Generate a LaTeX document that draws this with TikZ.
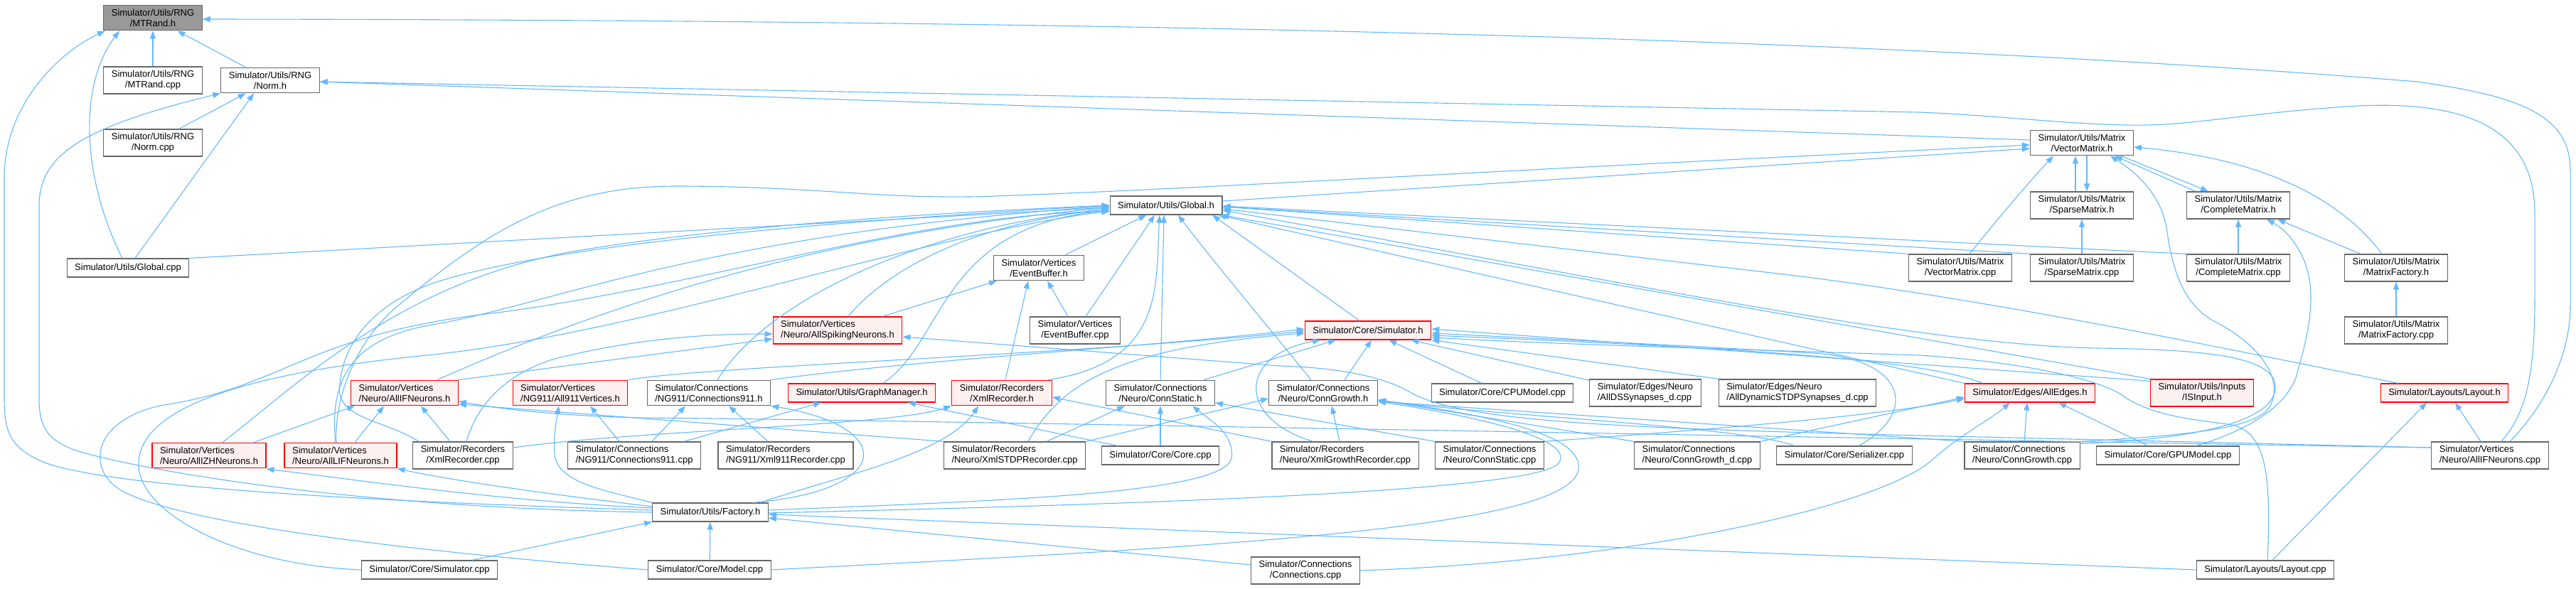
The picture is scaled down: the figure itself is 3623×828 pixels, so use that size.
\documentclass[tikz,border=0pt]{standalone}
\usepackage{fontspec}
\setmainfont{Liberation Sans}
\usetikzlibrary{arrows.meta}
\definecolor{EdgeBlue}{RGB}{99,184,255}
\definecolor{BoxGray}{RGB}{102,102,102}
\definecolor{PinkFill}{RGB}{255,240,240}
\definecolor{RootGray}{RGB}{153,153,153}

\begin{document}
\begin{tikzpicture}[x=1pt, y=-1pt,
    filebox/.style={draw=BoxGray, fill=white, line width=1.2pt, font=\fontsize{13}{15}\selectfont,
      inner xsep=11pt, inner ysep=5.5pt, minimum height=26pt, align=center},
    filebox left/.style={filebox, align=left},
    redbox/.style={filebox, draw=red, fill=PinkFill},
    redbox left/.style={filebox left, draw=red, fill=PinkFill},
    inc/.style={draw=EdgeBlue, line width=1.1pt, -{Triangle[length=11pt,width=8pt]}}]
    \useasboundingbox (0,0) rectangle (3623,828);

    % Files
    \node[filebox, fill=RootGray] (mtrandh) at (215,25) {Simulator/Utils/RNG\\/MTRand.h};
    \node[filebox] (mtrandcpp) at (215,113) {Simulator/Utils/RNG\\/MTRand.cpp};
    \node[filebox] (normh) at (380,113) {Simulator/Utils/RNG\\/Norm.h};
    \node[filebox] (normcpp) at (215,201) {Simulator/Utils/RNG\\/Norm.cpp};
    \node[filebox] (globalcpp) at (180,377) {Simulator/Utils/Global.cpp};
    \node[filebox] (globalh) at (1640,289) {Simulator/Utils/Global.h};
    \node[filebox] (eventbufh) at (1461,377) {Simulator/Vertices\\/EventBuffer.h};
    \node[filebox] (vectorh) at (2928,201) {Simulator/Utils/Matrix\\/VectorMatrix.h};
    \node[filebox] (sparseh) at (2928,289) {Simulator/Utils/Matrix\\/SparseMatrix.h};
    \node[filebox] (completeh) at (3148,289) {Simulator/Utils/Matrix\\/CompleteMatrix.h};
    \node[filebox] (vectorcpp) at (2757,377) {Simulator/Utils/Matrix\\/VectorMatrix.cpp};
    \node[filebox] (sparsecpp) at (2928,377) {Simulator/Utils/Matrix\\/SparseMatrix.cpp};
    \node[filebox] (completecpp) at (3148,377) {Simulator/Utils/Matrix\\/CompleteMatrix.cpp};
    \node[filebox] (mfactoryh) at (3370,377) {Simulator/Utils/Matrix\\/MatrixFactory.h};
    \node[filebox] (mfactorycpp) at (3370,465) {Simulator/Utils/Matrix\\/MatrixFactory.cpp};
    \node[redbox left] (spikingh) at (1178,465) {Simulator/Vertices\\/Neuro/AllSpikingNeurons.h};
    \node[filebox] (eventbufcpp) at (1512,465) {Simulator/Vertices\\/EventBuffer.cpp};
    \node[redbox] (simulatorh) at (1924,465) {Simulator/Core/Simulator.h};
    \node[redbox left] (ifneuronsh) at (569,553) {Simulator/Vertices\\/Neuro/AllIFNeurons.h};
    \node[redbox left] (v911h) at (802,553) {Simulator/Vertices\\/NG911/All911Vertices.h};
    \node[filebox left] (conn911h) at (997,553) {Simulator/Connections\\/NG911/Connections911.h};
    \node[redbox] (graphmgrh) at (1212,553) {Simulator/Utils/GraphManager.h};
    \node[redbox] (xmlrech) at (1409,553) {Simulator/Recorders\\/XmlRecorder.h};
    \node[filebox] (connstatich) at (1632,553) {Simulator/Connections\\/Neuro/ConnStatic.h};
    \node[filebox] (conngrowthh) at (1861,553) {Simulator/Connections\\/Neuro/ConnGrowth.h};
    \node[filebox] (cpumodelcpp) at (2113,553) {Simulator/Core/CPUModel.cpp};
    \node[filebox left] (dssyncpp) at (2314,553) {Simulator/Edges/Neuro\\/AllDSSynapses\_d.cpp};
    \node[filebox left] (dstdpcpp) at (2528,553) {Simulator/Edges/Neuro\\/AllDynamicSTDPSynapses\_d.cpp};
    \node[redbox] (alledgesh) at (2855,553) {Simulator/Edges/AllEdges.h};
    \node[redbox] (isinputh) at (3097,553) {Simulator/Utils/Inputs\\/ISInput.h};
    \node[redbox] (layouth) at (3438,553) {Simulator/Layouts/Layout.h};
    \node[redbox left] (izhh) at (294,641) {Simulator/Vertices\\/Neuro/AllIZHNeurons.h};
    \node[redbox left] (lifh) at (479,641) {Simulator/Vertices\\/Neuro/AllLIFNeurons.h};
    \node[filebox] (xmlreccpp) at (651,641) {Simulator/Recorders\\/XmlRecorder.cpp};
    \node[filebox left] (conn911cpp) at (892,641) {Simulator/Connections\\/NG911/Connections911.cpp};
    \node[filebox left] (xml911cpp) at (1105,641) {Simulator/Recorders\\/NG911/Xml911Recorder.cpp};
    \node[filebox left] (stdpreccpp) at (1427,641) {Simulator/Recorders\\/Neuro/XmlSTDPRecorder.cpp};
    \node[filebox] (corecpp) at (1632,641) {Simulator/Core/Core.cpp};
    \node[filebox left] (growthreccpp) at (1892,641) {Simulator/Recorders\\/Neuro/XmlGrowthRecorder.cpp};
    \node[filebox left] (connstaticcpp) at (2095,641) {Simulator/Connections\\/Neuro/ConnStatic.cpp};
    \node[filebox left] (conngrowthdcpp) at (2387,641) {Simulator/Connections\\/Neuro/ConnGrowth\_d.cpp};
    \node[filebox] (serializercpp) at (2594,641) {Simulator/Core/Serializer.cpp};
    \node[filebox left] (conngrowthcpp) at (2844,641) {Simulator/Connections\\/Neuro/ConnGrowth.cpp};
    \node[filebox] (gpumodelcpp) at (3049,641) {Simulator/Core/GPUModel.cpp};
    \node[filebox left] (ifneuronscpp) at (3502,641) {Simulator/Vertices\\/Neuro/AllIFNeurons.cpp};
    \node[filebox] (factoryh) at (999,721) {Simulator/Utils/Factory.h};
    \node[filebox] (simulatorcpp) at (604,802) {Simulator/Core/Simulator.cpp};
    \node[filebox] (modelcpp) at (998,802) {Simulator/Core/Model.cpp};
    \node[filebox] (connectionscpp) at (1836,803) {Simulator/Connections\\/Connections.cpp};
    \node[filebox] (layoutcpp) at (3186,802) {Simulator/Layouts/Layout.cpp};

    % RNG
    \draw[inc] (mtrandcpp) -- (mtrandh);
    \draw[inc] (normh) -- (mtrandh);
    \draw[inc] (normcpp) -- (normh);
    \draw[inc] ([xshift=-8pt]globalcpp.north) .. controls (115,250) and (110,120) .. ([xshift=-47pt]mtrandh.south);
    \draw[inc] ([xshift=10pt]globalcpp.north) -- ([xshift=-23pt]normh.south);
    \draw[inc] ([yshift=3pt]factoryh.west) .. controls (500,705) and (150,685) .. (60,650) .. controls (15,630) and (6,610) .. (6,560) -- (6,250) .. controls (6,150) and (80,75) .. ([xshift=-67pt]mtrandh.south);
    \draw[inc] (factoryh.west) .. controls (500,715) and (200,662) .. (110,635) .. controls (65,620) and (55,600) .. (55,560) -- (55,290) .. controls (55,220) and (110,180) .. (normh.south west);
    \draw[inc] ([xshift=28pt]ifneuronscpp.north) .. controls (3580,570) and (3615,500) .. (3615,430) -- (3615,240) .. controls (3615,160) and (3540,135) .. (3400,115) .. controls (2600,50) and (1500,28) .. ([yshift=-2pt]mtrandh.east);
    \draw[inc] ([xshift=16pt]ifneuronscpp.north) .. controls (3555,580) and (3565,520) .. (3565,420) -- (3565,300) .. controls (3565,170) and (3450,140) .. (3300,150) .. controls (3150,160) and (3080,178) .. (2990,176) .. controls (2900,174) and (2800,162) .. (2700,158) -- ([yshift=-2pt]normh.east);
    \draw[inc] ([yshift=4pt]vectorh.west) -- ([yshift=-2pt]normh.east);

    % Matrix
    \draw[inc] ([yshift=6pt]globalh.east) -- ([yshift=-8pt]vectorh.west);
    \draw[inc] ([xshift=-6pt]lifh.north) .. controls (470,560) and (500,480) .. (560,430) .. controls (680,330) and (780,262) .. (950,262) .. controls (1150,262) and (1250,282) .. (1400,276) .. controls (1700,265) and (2000,245) .. ([yshift=-3pt]vectorh.west);
    \draw[inc] ([xshift=-9pt]sparseh.north) -- ([xshift=-9pt]vectorh.south);
    \draw[inc] ([xshift=7pt]vectorh.south) -- ([xshift=7pt]sparseh.north);
    \draw[inc] ([xshift=-60pt]completeh.north) -- ([xshift=46pt]vectorh.south);
    \draw[inc] ([xshift=55pt]vectorh.south) -- ([xshift=-42pt]completeh.north);
    \draw[inc] ([xshift=13pt]vectorcpp.north) .. controls (2800,320) and (2850,260) .. ([xshift=-40pt]vectorh.south);
    \draw[inc] ([xshift=-20pt]mfactoryh.north) .. controls (3300,290) and (3200,225) .. ([yshift=-6pt]vectorh.east);
    \draw[inc] (sparsecpp) -- (sparseh);
    \draw[inc] (completecpp) -- (completeh);
    \draw[inc] ([xshift=-50pt]mfactoryh.north) -- ([xshift=55pt]completeh.south);
    \draw[inc] (mfactorycpp) -- (mfactoryh);
    \draw[inc] (conngrowthcpp.north east) .. controls (3100,612) and (3165,600) .. (3188,578) .. controls (3215,545) and (3190,490) .. (3110,450) .. controls (3070,425) and (3055,380) .. (3047,320) .. controls (3038,270) and (3000,240) .. ([xshift=40pt]vectorh.south);
    \draw[inc] ([xshift=40pt]gpumodelcpp.north) .. controls (3180,600) and (3225,560) .. (3232,520) .. controls (3250,460) and (3260,400) .. (3235,355) .. controls (3222,330) and (3205,318) .. ([xshift=40pt]completeh.south);

    % Global.h
    \draw[inc] (globalcpp.north east) -- ([yshift=-3pt]globalh.west);
    \draw[inc] (eventbufh) -- (globalh);
    \draw[inc] ([xshift=15pt]spikingh.north) .. controls (1230,400) and (1330,320) .. ([yshift=-5pt]globalh.west);
    \draw[inc] ([xshift=46pt]ifneuronsh.north) .. controls (850,430) and (1150,330) .. ([yshift=-3pt]globalh.west);
    \draw[inc] ([xshift=19pt]izhh.north) .. controls (420,540) and (560,400) .. (800,355) .. controls (1000,320) and (1300,300) .. (globalh.west);
    \draw[inc] ([xshift=-7pt]lifh.north) .. controls (460,510) and (520,470) .. (620,455) .. controls (800,420) and (1000,330) .. ([yshift=-1pt]globalh.west);
    \draw[inc] ([xshift=12pt]conn911h.north) .. controls (1080,420) and (1300,320) .. ([yshift=-5pt]globalh.west);
    \draw[inc] ([xshift=30pt]graphmgrh.north) .. controls (1330,480) and (1320,320) .. ([yshift=-7pt]globalh.west);
    \draw[inc] ([xshift=65pt]xmlrech.north) .. controls (1640,510) and (1625,400) .. ([xshift=-9pt]globalh.south);
    \draw[inc] (connstatich.north) -- ([xshift=-3pt]globalh.south);
    \draw[inc] ([xshift=15pt]eventbufcpp.north) -- ([xshift=-16pt]globalh.south);
    \draw[inc] ([xshift=-12pt]simulatorh.north) -- ([xshift=65pt]globalh.south);
    \draw[inc] ([xshift=-17pt]conngrowthh.north) .. controls (1800,480) and (1700,360) .. ([xshift=17pt]globalh.south);
    \draw[inc] (alledgesh.north west) -- ([xshift=-6pt]globalh.south east);
    \draw[inc] (isinputh.north west) -- ([xshift=-2pt]globalh.south east);
    \draw[inc] ([xshift=-65pt]layouth.north) .. controls (3200,505) and (2800,420) .. (2500,385) -- ([yshift=-5pt]globalh.east);
    \draw[inc] (vectorcpp.north west) -- ([yshift=-2pt]globalh.east);
    \draw[inc] (sparsecpp.north west) -- ([yshift=-2pt]globalh.east);
    \draw[inc] (completecpp.north west) -- ([yshift=-1pt]globalh.east);
    \draw[inc] ([yshift=-3pt]conngrowthcpp.north east) .. controls (3100,618) and (3200,590) .. (3200,545) .. controls (3200,505) and (3120,492) .. (2950,490) .. controls (2700,485) and (2300,400) .. ([yshift=-7pt]globalh.east);
    \draw[inc] ([xshift=-62pt]xmlreccpp.north) .. controls (540,590) and (470,590) .. (478,540) .. controls (485,470) and (540,420) .. (620,395) .. controls (800,340) and (1200,310) .. (globalh.west);
    \draw[inc] (simulatorcpp.west) .. controls (330,795) and (190,720) .. (195,650) .. controls (200,560) and (400,520) .. (600,500) .. controls (900,470) and (1300,330) .. ([yshift=-8pt]globalh.west);
    \draw[inc] (modelcpp.west) .. controls (500,770) and (240,730) .. (170,690) .. controls (120,660) and (130,590) .. (230,570) .. controls (400,545) and (430,470) .. (700,440) .. controls (1000,400) and (1300,300) .. ([yshift=-9pt]globalh.west);

    % Simulator.h
    \draw[inc] ([xshift=19pt]stdpreccpp.north) .. controls (1490,545) and (1560,490) .. ([yshift=-4pt]simulatorh.west);
    \draw[inc] (conn911h.north east) .. controls (1300,505) and (1600,490) .. ([yshift=2pt]simulatorh.west);
    \draw[inc] (v911h.north east) .. controls (1000,515) and (1500,500) .. ([yshift=-1pt]simulatorh.west);
    \draw[inc] (connstatich) -- (simulatorh);
    \draw[inc] ([xshift=30pt]conngrowthh.north) -- ([xshift=5pt]simulatorh.south);
    \draw[inc] ([xshift=-45pt]growthreccpp.north) .. controls (1740,590) and (1740,500) .. ([xshift=-67pt]simulatorh.south);
    \draw[inc] (cpumodelcpp) -- (simulatorh);
    \draw[inc] (dssyncpp) -- (simulatorh);
    \draw[inc] (dstdpcpp.north west) -- (simulatorh.south east);
    \draw[inc] ([xshift=-66pt]alledgesh.north) .. controls (2700,505) and (2450,490) .. ([yshift=-7pt]simulatorh.east);
    \draw[inc] ([yshift=-3pt]isinputh.north west) -- ([yshift=2pt]simulatorh.east);
    \draw[inc] ([xshift=20pt]serializercpp.north) .. controls (2700,580) and (2680,505) .. (2550,497) .. controls (2400,488) and (2200,478) .. ([yshift=-4pt]simulatorh.east);
    \draw[inc] ([xshift=3pt]layoutcpp.north) .. controls (3195,660) and (3185,610) .. (3140,598) .. controls (3080,590) and (3030,585) .. (2990,560) .. controls (2960,535) and (2850,510) .. (2700,500) .. controls (2400,490) and (2200,485) .. ([yshift=-10pt]simulatorh.east);

    % Vertices and recorders
    \draw[inc] (spikingh) -- (eventbufh);
    \draw[inc] ([xshift=-10pt]eventbufcpp.north) -- ([xshift=12pt]eventbufh.south);
    \draw[inc] ([xshift=5pt]xmlrech.north) -- ([xshift=-15pt]eventbufh.south);
    \draw[inc] (ifneuronsh.north east) -- ([yshift=-12pt]spikingh.west);
    \draw[inc] ([xshift=5pt]xmlreccpp.north) .. controls (668,580) and (700,530) .. (780,505) .. controls (900,475) and (1000,470) .. ([yshift=-5pt]spikingh.west);
    \draw[inc] ([yshift=11pt]ifneuronscpp.west) -- (2700,613) .. controls (2300,603) and (2060,595) .. (1985,553) .. controls (1955,535) and (1900,518) .. (1800,515) -- ([yshift=-9pt]spikingh.east);
    \draw[inc] ([yshift=11pt]ifneuronscpp.west) .. controls (2500,615) and (1200,590) .. (900,588) .. controls (780,585) and (700,575) .. ([yshift=-12pt]ifneuronsh.east);
    \draw[inc] ([xshift=63pt]izhh.north) -- ([xshift=-70pt]ifneuronsh.south);
    \draw[inc] ([xshift=20pt]lifh.north) -- ([xshift=-29pt]ifneuronsh.south);
    \draw[inc] ([xshift=-18pt]xmlreccpp.north) -- ([xshift=23pt]ifneuronsh.south);
    \draw[inc] (stdpreccpp.north west) -- ([yshift=-16pt]ifneuronsh.east);
    \draw[inc] ([yshift=11pt]xmlreccpp.east) .. controls (900,605) and (1250,600) .. (xmlrech.south west);

    % Factory.h
    \draw[inc] ([yshift=6pt]factoryh.west) .. controls (700,705) and (500,675) .. ([yshift=-19pt]izhh.east);
    \draw[inc] ([yshift=8pt]factoryh.west) .. controls (850,705) and (650,680) .. (lifh.south east);
    \draw[inc] (factoryh.north west) .. controls (850,690) and (785,680) .. (780,640) .. controls (778,610) and (783,590) .. ([xshift=-16pt]v911h.south);
    \draw[inc] ([xshift=60pt]factoryh.north) .. controls (1260,690) and (1260,600) .. (conn911h.south east);
    \draw[inc] ([xshift=70pt]factoryh.north) .. controls (1180,670) and (1330,640) .. ([xshift=-33pt]xmlrech.south);
    \draw[inc] ([yshift=3pt]factoryh.east) .. controls (1400,705) and (1722,695) .. (1732,645) .. controls (1737,610) and (1700,590) .. ([xshift=45pt]connstatich.south);
    \draw[inc] ([yshift=-1pt]factoryh.east) .. controls (1500,712) and (2160,695) .. (2192,652) .. controls (2215,620) and (2100,590) .. ([yshift=-12pt]conngrowthh.east);
    \draw[inc] (modelcpp.east) .. controls (1700,770) and (2210,745) .. (2220,660) .. controls (2226,612) and (2100,585) .. ([yshift=-10pt]conngrowthh.east);
    \draw[inc] (modelcpp) -- (factoryh);
    \draw[inc] ([xshift=60pt]simulatorcpp.north) -- (factoryh.south west);
    \draw[inc] ([yshift=8pt]connectionscpp.west) -- ([yshift=-8pt]factoryh.east);
    \draw[inc] (layoutcpp.west) -- ([yshift=-3pt]factoryh.east);

    % Layouts, edges, connections
    \draw[inc] ([xshift=10pt]layoutcpp.north) -- ([xshift=-25pt]layouth.south);
    \draw[inc] ([xshift=-13pt]ifneuronscpp.north) -- ([xshift=15pt]layouth.south);
    \draw[inc] (connectionscpp.east) .. controls (2300,790) and (2650,712) .. (2720,645) .. controls (2760,610) and (2800,590) .. ([xshift=-28pt]alledgesh.south);
    \draw[inc] ([xshift=3pt]conngrowthcpp.north) -- ([xshift=-4pt]alledgesh.south);
    \draw[inc] ([xshift=-28pt]gpumodelcpp.north) -- ([xshift=40pt]alledgesh.south);
    \draw[inc] (conngrowthdcpp.north east) -- ([yshift=-6pt]alledgesh.west);
    \draw[inc] (connstaticcpp.north east) .. controls (2400,605) and (2650,585) .. ([yshift=-8pt]alledgesh.west);
    \draw[inc] (connstaticcpp.north west) -- ([yshift=-14pt]connstatich.east);
    \draw[inc] (corecpp) -- (connstatich);
    \draw[inc] ([xshift=45pt]stdpreccpp.north) -- ([xshift=-50pt]connstatich.south);
    \draw[inc] (stdpreccpp.north east) -- ([yshift=-8pt]conngrowthh.west);
    \draw[inc] ([xshift=-60pt]corecpp.north) -- ([xshift=65pt]graphmgrh.south);
    \draw[inc] ([xshift=-8pt]growthreccpp.north) -- ([xshift=12pt]conngrowthh.south);
    \draw[inc] (growthreccpp.north west) -- ([yshift=-6pt]xmlrech.east);
    \draw[inc] ([xshift=-70pt]serializercpp.north) .. controls (2450,600) and (2100,585) .. ([yshift=-10pt]conngrowthh.east);
    \draw[inc] (conngrowthdcpp.north west) -- ([yshift=-10pt]conngrowthh.east);
    \draw[inc] (conngrowthcpp.north west) -- ([yshift=-12pt]conngrowthh.east);
    \draw[inc] ([xshift=70pt]conn911cpp.north) -- ([xshift=-57pt]graphmgrh.south);
    \draw[inc] ([xshift=25pt]conn911cpp.north) -- ([xshift=-33pt]conn911h.south);
    \draw[inc] ([xshift=-21pt]conn911cpp.north) -- ([xshift=28pt]v911h.south);
    \draw[inc] ([xshift=-25pt]xml911cpp.north) -- ([xshift=28pt]conn911h.south);
\end{tikzpicture}
\end{document}
